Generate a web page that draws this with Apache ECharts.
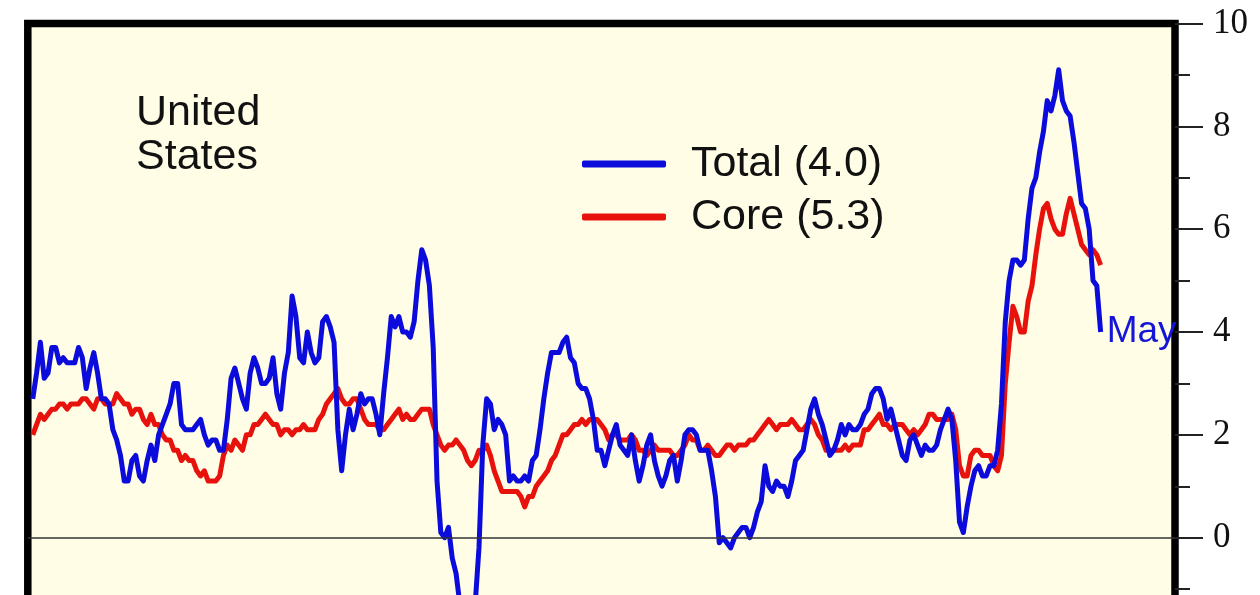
<!DOCTYPE html>
<html>
<head>
    <meta charset="utf-8">
    <title>United States CPI</title>
    <script src="https://cdn.jsdelivr.net/npm/echarts@6/dist/echarts.min.js"></script>
    <style>
        html, body { margin: 0; padding: 0; overflow: hidden; background: #fff; }
        #main { width: 1260px; height: 680px; }
    </style>
</head>
<body>
<div id="main"></div>
<script type="text/javascript">
    // monthly, Jan 2000 .. May 2023, % change from a year earlier
    var startYear = 2000;
    var monthNames = ['Jan', 'Feb', 'Mar', 'Apr', 'May', 'Jun', 'Jul', 'Aug', 'Sep', 'Oct', 'Nov', 'Dec'];

    var totalCpi = [
        2.7, 3.2, 3.8, 3.1, 3.2, 3.7, 3.7, 3.4, 3.5, 3.4, 3.4, 3.4,
        3.7, 3.5, 2.9, 3.3, 3.6, 3.2, 2.7, 2.7, 2.6, 2.1, 1.9, 1.6,
        1.1, 1.1, 1.5, 1.6, 1.2, 1.1, 1.5, 1.8, 1.5, 2.0, 2.2, 2.4,
        2.6, 3.0, 3.0, 2.2, 2.1, 2.1, 2.1, 2.2, 2.3, 2.0, 1.8, 1.9,
        1.9, 1.7, 1.7, 2.3, 3.1, 3.3, 3.0, 2.7, 2.5, 3.2, 3.5, 3.3,
        3.0, 3.0, 3.1, 3.5, 2.8, 2.5, 3.2, 3.6, 4.7, 4.3, 3.5, 3.4,
        4.0, 3.6, 3.4, 3.5, 4.2, 4.3, 4.1, 3.8, 2.1, 1.3, 2.0, 2.5,
        2.1, 2.4, 2.8, 2.6, 2.7, 2.7, 2.4, 2.0, 2.8, 3.5, 4.3, 4.1,
        4.3, 4.0, 4.0, 3.9, 4.2, 5.0, 5.6, 5.4, 4.9, 3.7, 1.1, 0.1,
        0.0, 0.2, -0.4, -0.7, -1.3, -1.4, -2.1, -1.5, -1.3, -0.2, 1.8, 2.7,
        2.6, 2.1, 2.3, 2.2, 2.0, 1.1, 1.2, 1.1, 1.1, 1.2, 1.1, 1.5,
        1.6, 2.1, 2.7, 3.2, 3.6, 3.6, 3.6, 3.8, 3.9, 3.5, 3.4, 3.0,
        2.9, 2.9, 2.7, 2.3, 1.7, 1.7, 1.4, 1.7, 2.0, 2.2, 1.8, 1.7,
        1.6, 2.0, 1.5, 1.1, 1.4, 1.8, 2.0, 1.5, 1.2, 1.0, 1.2, 1.5,
        1.6, 1.1, 1.5, 2.0, 2.1, 2.1, 2.0, 1.7, 1.7, 1.7, 1.3, 0.8,
        -0.1, 0.0, -0.1, -0.2, 0.0, 0.1, 0.2, 0.2, 0.0, 0.2, 0.5, 0.7,
        1.4, 1.0, 0.9, 1.1, 1.0, 1.0, 0.8, 1.1, 1.5, 1.6, 1.7, 2.1,
        2.5, 2.7, 2.4, 2.2, 1.9, 1.6, 1.7, 1.9, 2.2, 2.0, 2.2, 2.1,
        2.1, 2.2, 2.4, 2.5, 2.8, 2.9, 2.9, 2.7, 2.3, 2.5, 2.2, 1.9,
        1.6, 1.5, 1.9, 2.0, 1.8, 1.6, 1.8, 1.7, 1.7, 1.8, 2.1, 2.3,
        2.5, 2.3, 1.5, 0.3, 0.1, 0.6, 1.0, 1.3, 1.4, 1.2, 1.2, 1.4,
        1.4, 1.7, 2.6, 4.2, 5.0, 5.4, 5.4, 5.3, 5.4, 6.2, 6.8, 7.0,
        7.5, 7.9, 8.5, 8.3, 8.6, 9.1, 8.5, 8.3, 8.2, 7.7, 7.1, 6.5,
        6.4, 6.0, 5.0, 4.9, 4.0
    ];

    var coreCpi = [
        2.0, 2.2, 2.4, 2.3, 2.4, 2.5, 2.5, 2.6, 2.6, 2.5, 2.6, 2.6,
        2.6, 2.7, 2.7, 2.6, 2.5, 2.7, 2.7, 2.6, 2.6, 2.6, 2.8, 2.7,
        2.6, 2.6, 2.4, 2.5, 2.5, 2.3, 2.2, 2.4, 2.2, 2.2, 2.0, 1.9,
        1.9, 1.7, 1.7, 1.5, 1.6, 1.5, 1.5, 1.3, 1.2, 1.3, 1.1, 1.1,
        1.1, 1.2, 1.6, 1.8, 1.7, 1.9, 1.8, 1.7, 2.0, 2.0, 2.2, 2.2,
        2.3, 2.4, 2.3, 2.2, 2.2, 2.0, 2.1, 2.1, 2.0, 2.1, 2.1, 2.2,
        2.1, 2.1, 2.1, 2.3, 2.4, 2.6, 2.7, 2.8, 2.9, 2.7, 2.6, 2.6,
        2.7, 2.7, 2.5, 2.3, 2.2, 2.2, 2.2, 2.1, 2.1, 2.2, 2.3, 2.4,
        2.5, 2.3, 2.4, 2.3, 2.3, 2.4, 2.5, 2.5, 2.5, 2.2, 2.0, 1.8,
        1.7, 1.8, 1.8, 1.9, 1.8, 1.7, 1.5, 1.4, 1.5, 1.7, 1.7, 1.8,
        1.6, 1.3, 1.1, 0.9, 0.9, 0.9, 0.9, 0.9, 0.8, 0.6, 0.8, 0.8,
        1.0, 1.1, 1.2, 1.3, 1.5, 1.6, 1.8, 2.0, 2.0, 2.1, 2.2, 2.2,
        2.3, 2.2, 2.3, 2.3, 2.3, 2.2, 2.1, 1.9, 2.0, 2.0, 1.9, 1.9,
        1.9, 2.0, 1.9, 1.7, 1.7, 1.6, 1.7, 1.8, 1.7, 1.7, 1.7, 1.7,
        1.6, 1.6, 1.7, 1.8, 2.0, 1.9, 1.9, 1.7, 1.7, 1.8, 1.7, 1.6,
        1.6, 1.7, 1.8, 1.8, 1.7, 1.8, 1.8, 1.8, 1.9, 1.9, 2.0, 2.1,
        2.2, 2.3, 2.2, 2.1, 2.2, 2.2, 2.2, 2.3, 2.2, 2.1, 2.1, 2.2,
        2.3, 2.2, 2.0, 1.9, 1.7, 1.7, 1.7, 1.7, 1.7, 1.8, 1.7, 1.8,
        1.8, 1.8, 2.1, 2.1, 2.2, 2.3, 2.4, 2.2, 2.2, 2.1, 2.2, 2.2,
        2.2, 2.1, 2.0, 2.1, 2.0, 2.1, 2.2, 2.4, 2.4, 2.3, 2.3, 2.3,
        2.3, 2.4, 2.1, 1.4, 1.2, 1.2, 1.6, 1.7, 1.7, 1.6, 1.6, 1.6,
        1.4, 1.3, 1.6, 3.0, 3.8, 4.5, 4.3, 4.0, 4.0, 4.6, 4.9, 5.5,
        6.0, 6.4, 6.5, 6.2, 6.0, 5.9, 5.9, 6.3, 6.6, 6.3, 6.0, 5.7,
        5.6, 5.5, 5.6, 5.5, 5.3
    ];

    var yTicks = [-2, 0, 2, 4, 6, 8, 10];
    var countryName = 'United\nStates';

    // x = months since Jan 2000
    var monthIndex = [];
    for (var i = 0; i < totalCpi.length; i++) {
        monthIndex.push(i);
    }
    var lastMonth = monthNames[(totalCpi.length - 1) % 12];
    var totalName = 'Total (' + totalCpi[totalCpi.length - 1].toFixed(1) + ')';
    var coreName = 'Core (' + coreCpi[coreCpi.length - 1].toFixed(1) + ')';

    var toPairs = function (vals) {
        return vals.map(function (v, k) { return [monthIndex[k], v]; });
    };

    var myChart = echarts.init(document.getElementById('main'));
    var option = {
        animation: false,
        title: {
            text: countryName,
            left: 136,
            top: 91,
            padding: 0,
            textStyle: {
                fontFamily: 'Liberation Sans',
                fontSize: 43,
                fontWeight: 'normal',
                lineHeight: 44,
                color: '#111'
            }
        },
        legend: {
            data: [totalName, coreName],
            orient: 'vertical',
            left: 582,
            top: 142,
            padding: 0,
            itemGap: 9,
            itemWidth: 84,
            itemHeight: 7,
            icon: 'roundRect',
            textStyle: {
                fontFamily: 'Liberation Sans',
                fontSize: 43,
                lineHeight: 44,
                color: '#111',
                padding: [0, 0, 0, 20]
            }
        },
        grid: {
            left: 27.8,
            right: 85,
            top: 23.5,
            bottom: 39.5,
            show: true,
            backgroundColor: '#fffde6',
            borderColor: '#000',
            borderWidth: 7.5
        },
        xAxis: {
            type: 'value',
            min: -1.3,
            max: 299.5,
            show: false
        },
        yAxis: {
            type: 'value',
            position: 'right',
            min: yTicks[0],
            max: yTicks[yTicks.length - 1],
            interval: 2,
            axisLine: { show: false, onZero: false },
            splitLine: { show: false },
            axisTick: {
                show: true,
                length: 28,
                lineStyle: { color: '#222', width: 2 }
            },
            minorTick: {
                show: true,
                splitNumber: 2,
                length: 15,
                lineStyle: { color: '#222', width: 2 }
            },
            axisLabel: {
                margin: 38,
                fontFamily: 'Liberation Serif',
                fontSize: 35,
                color: '#111'
            }
        },
        series: [
            {
                name: coreName,
                type: 'line',
                data: toPairs(coreCpi),
                color: '#e8120c',
                showSymbol: false,
                symbol: 'none',
                lineStyle: { width: 5, color: '#e8120c', join: 'round' },
                markLine: {
                    silent: true,
                    symbol: ['none', 'none'],
                    label: { show: false },
                    lineStyle: { color: '#333', width: 1.5, type: 'solid' },
                    data: [{ yAxis: 0 }]
                }
            },
            {
                name: totalName,
                type: 'line',
                data: toPairs(totalCpi),
                color: '#0b0bdc',
                showSymbol: false,
                symbol: 'none',
                lineStyle: { width: 5, color: '#0b0bdc', join: 'round' },
                endLabel: {
                    show: true,
                    formatter: lastMonth,
                    distance: 6,
                    fontFamily: 'Liberation Sans',
                    fontSize: 37,
                    color: '#1515d8'
                }
            }
        ]
    };
    myChart.setOption(option);
</script>
</body>
</html>
